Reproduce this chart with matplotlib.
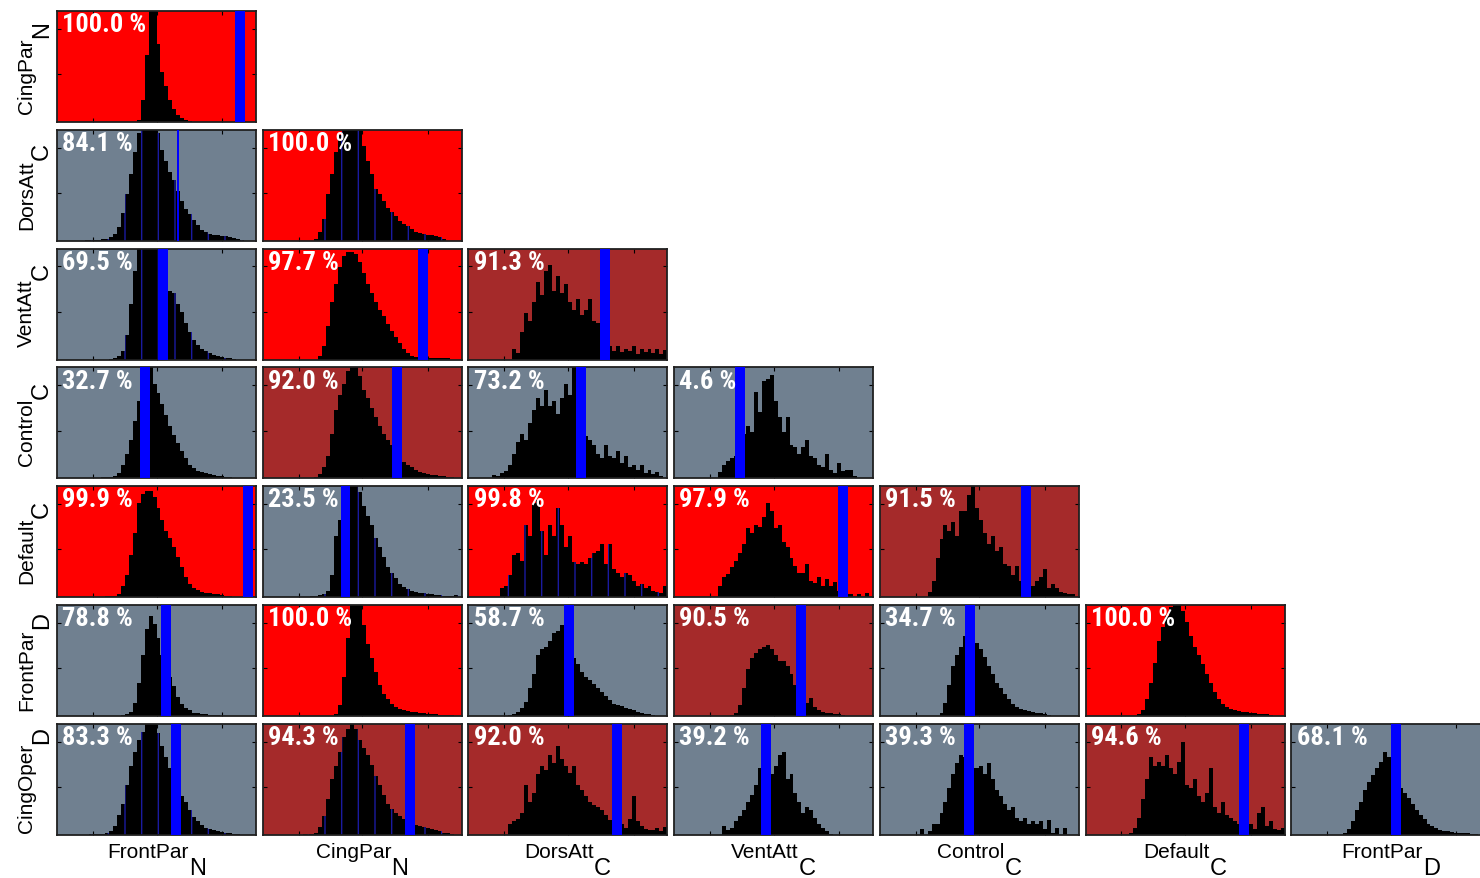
import numpy as np
import matplotlib
matplotlib.use('Agg')
import matplotlib.pyplot as plt

# fonts: regular sans for the axis names, condensed bold for the percentages
LABEL_FONT = 'Liberation Sans'
PCT_FONT = 'Roboto Condensed'
plt.rcParams['font.family'] = [LABEL_FONT, 'DejaVu Sans']
plt.rcParams['hatch.linewidth'] = 1.0

# labels
row_names = ['CingPar', 'DorsAtt', 'VentAtt', 'Control', 'Default', 'FrontPar', 'CingOper']
row_subs = ['N', 'C', 'C', 'C', 'C', 'D', 'D']
col_names = ['FrontPar', 'CingPar', 'DorsAtt', 'VentAtt', 'Control', 'Default', 'FrontPar']
col_subs = ['N', 'N', 'C', 'C', 'C', 'C', 'D']

# percentage of null values below the observed one
pct = [
    [100.0],
    [84.1, 100.0],
    [69.5, 97.7, 91.3],
    [32.7, 92.0, 73.2, 4.6],
    [99.9, 23.5, 99.8, 97.9, 91.5],
    [78.8, 100.0, 58.7, 90.5, 34.7, 100.0],
    [83.3, 94.3, 92.0, 39.2, 39.3, 94.6, 68.1],
]

# observed value (blue marker), x scale 0-100 per panel
observed = [
    [92.0],
    [60.8, 104],
    [53.5, 80.5, 68.7],
    [44.4, 67.6, 56.6, 33.3],
    [96.0, 41.6, 104, 84.8, 73.6],
    [54.6, 104, 50.4, 63.6, 45.2, 104],
    [59.7, 74.0, 74.7, 46.4, 44.7, 79.8, 52.9],
]
marker_w = [
    [5],
    [0.8, 5],
    [5, 5, 5],
    [5, 5, 5, 5],
    [5, 5, 5, 5, 5],
    [5, 5, 5, 5, 5, 5],
    [5, 5, 5, 5, 5, 5, 5],
]

# null histograms: index of first bin (bin width 2) and bin heights
first_bin = [
    [20],
    [7, 13],
    [13, 14, 11],
    [10, 13, 6, 11],
    [11, 12, 8, 11, 12],
    [16, 18, 10, 14, 15, 13],
    [8, 10, 10, 12, 10, 11, 13],
]

counts = [
    [[0.02, 0.2, 0.6, 1.2, 1.2, 0.7, 0.45, 0.32, 0.2, 0.12, 0.06, 0.035, 0.02, 0.01]],
    [[0.005, 0.005, 0.01, 0.01, 0.015, 0.02, 0.03, 0.06, 0.12, 0.25, 0.42, 0.6, 0.8, 0.97, 1.1, 1.2, 1.2, 1.15, 0.97, 0.82,
      0.72, 0.62, 0.55, 0.45, 0.36, 0.29, 0.24, 0.19, 0.14, 0.1, 0.08, 0.065, 0.055, 0.05, 0.045, 0.04, 0.035, 0.025, 0.015, 0.008],
     [0.02, 0.08, 0.2, 0.42, 0.6, 0.8, 0.95, 1.1, 1.2, 1.2, 1.15, 1.0, 0.85, 0.72, 0.6, 0.47, 0.42, 0.36, 0.3, 0.26, 0.22, 0.18,
      0.15, 0.13, 0.11, 0.08, 0.07, 0.06, 0.05, 0.05, 0.04, 0.03, 0.015]],
    [[0.005, 0.01, 0.03, 0.08, 0.22, 0.5, 0.8, 1.0, 1.1, 1.2, 1.2, 1.15, 1.0, 0.85, 0.7, 0.62, 0.6, 0.5, 0.43, 0.33, 0.25, 0.18,
      0.13, 0.1, 0.08, 0.06, 0.045, 0.035, 0.025, 0.015, 0.01, 0.005],
     [0.03, 0.12, 0.3, 0.52, 0.68, 0.83, 0.93, 0.97, 0.97, 0.95, 0.88, 0.78, 0.68, 0.6, 0.52, 0.45, 0.39, 0.32, 0.26, 0.2, 0.15,
      0.1, 0.06, 0.035, 0.02, 0.015, 0.012, 0.012, 0.012, 0.012, 0.012, 0.012, 0.012],
     [0.1, 0.06, 0.25, 0.42, 0.35, 0.52, 0.7, 0.58, 0.8, 0.85, 0.62, 0.75, 0.6, 0.68, 0.52, 0.45, 0.55, 0.4, 0.45, 0.55, 0.35,
      0.33, 0.25, 0.2, 0.12, 0.08, 0.12, 0.07, 0.1, 0.08, 0.12, 0.05, 0.1, 0.07, 0.1, 0.06, 0.1, 0.05, 0.09]],
    [[0.005, 0.01, 0.01, 0.01, 0.02, 0.05, 0.12, 0.22, 0.35, 0.52, 0.7, 0.8, 0.95, 1.0, 0.85, 0.77, 0.67, 0.57, 0.47, 0.39, 0.32,
      0.25, 0.18, 0.12, 0.09, 0.07, 0.06, 0.05, 0.04, 0.03, 0.025, 0.02, 0.015, 0.01, 0.008],
     [0.01, 0.04, 0.1, 0.2, 0.4, 0.62, 0.75, 0.85, 0.97, 1.1, 1.05, 0.92, 0.8, 0.72, 0.63, 0.55, 0.47, 0.4, 0.35, 0.3, 0.25, 0.2,
      0.15, 0.12, 0.1, 0.08, 0.06, 0.05, 0.04, 0.035, 0.03, 0.025, 0.02, 0.015, 0.01, 0.008],
     [0.03, 0.02, 0.05, 0.07, 0.12, 0.22, 0.33, 0.4, 0.35, 0.5, 0.62, 0.72, 0.65, 0.8, 0.65, 0.7, 0.58, 0.72, 0.85, 0.75, 1.05,
      0.6, 0.5, 0.38, 0.35, 0.3, 0.22, 0.18, 0.3, 0.2, 0.18, 0.25, 0.14, 0.2, 0.1, 0.12, 0.08, 0.12, 0.05, 0.08, 0.04, 0.06, 0.02],
     [0.06, 0.12, 0.16, 0.18, 0.2, 0.3, 0.4, 0.47, 0.42, 0.78, 0.6, 0.88, 0.9, 0.93, 0.7, 0.55, 0.42, 0.55, 0.3, 0.28, 0.22, 0.28,
      0.35, 0.2, 0.18, 0.12, 0.1, 0.22, 0.08, 0.05, 0.14, 0.07, 0.08, 0.08, 0.02]],
    [[0.005, 0.01, 0.01, 0.01, 0.03, 0.1, 0.2, 0.38, 0.58, 0.85, 0.93, 0.96, 0.96, 0.9, 0.8, 0.7, 0.6, 0.53, 0.45, 0.36, 0.27,
      0.18, 0.12, 0.08, 0.065, 0.05, 0.04, 0.035, 0.03, 0.025, 0.02, 0.012, 0.008, 0.006, 0.005],
     [0.008, 0.012, 0.02, 0.03, 0.06, 0.2, 0.55, 0.7, 0.85, 0.95, 1.05, 1.1, 0.95, 0.82, 0.73, 0.65, 0.53, 0.45, 0.36, 0.27, 0.22,
      0.17, 0.12, 0.09, 0.07, 0.055, 0.05, 0.04, 0.035, 0.03, 0.025, 0.02, 0.018, 0.015, 0.012, 0.01, 0.02],
     [0.08, 0.1, 0.2, 0.38, 0.4, 0.33, 0.65, 0.55, 0.85, 0.88, 0.6, 0.38, 0.65, 0.55, 0.8, 0.65, 0.45, 0.55, 0.32, 0.3, 0.32, 0.3,
      0.35, 0.4, 0.42, 0.48, 0.3, 0.48, 0.25, 0.22, 0.18, 0.22, 0.2, 0.15, 0.1, 0.12, 0.08, 0.1, 0.06, 0.05, 0.04, 0.1],
     [0.1, 0.18, 0.21, 0.27, 0.33, 0.4, 0.48, 0.62, 0.58, 0.65, 0.63, 0.72, 0.85, 0.78, 0.62, 0.65, 0.5, 0.45, 0.35, 0.28, 0.22,
      0.22, 0.3, 0.15, 0.13, 0.18, 0.1, 0.16, 0.1, 0.14, 0.06, 0.04, 0.03, 0.03, 0.0, 0.03, 0.0, 0.04],
     [0.05, 0.15, 0.35, 0.52, 0.65, 0.6, 0.68, 0.55, 0.78, 0.78, 0.92, 1.1, 0.8, 0.7, 0.58, 0.48, 0.55, 0.42, 0.45, 0.3, 0.28,
      0.2, 0.28, 0.15, 0.12, 0.1, 0.1, 0.15, 0.18, 0.25, 0.08, 0.12, 0.08, 0.05, 0.04, 0.03, 0.03]],
    [[0.005, 0.015, 0.04, 0.12, 0.3, 0.55, 0.78, 0.9, 0.83, 0.7, 0.55, 0.45, 0.35, 0.27, 0.17, 0.11, 0.07, 0.05, 0.03, 0.025,
      0.02, 0.015, 0.01, 0.008, 0.005],
     [0.02, 0.1, 0.35, 0.7, 1.05, 1.2, 1.05, 0.82, 0.65, 0.52, 0.4, 0.28, 0.2, 0.15, 0.11, 0.08, 0.065, 0.055, 0.045, 0.04,
      0.035, 0.03, 0.025, 0.02, 0.018, 0.015, 0.012, 0.01, 0.008, 0.005],
     [0.01, 0.02, 0.04, 0.07, 0.13, 0.25, 0.38, 0.55, 0.6, 0.62, 0.68, 0.75, 0.77, 0.82, 0.7, 0.6, 0.52, 0.47, 0.4, 0.35, 0.32,
      0.29, 0.25, 0.22, 0.18, 0.14, 0.11, 0.1, 0.09, 0.07, 0.06, 0.05, 0.04, 0.03, 0.02, 0.015, 0.01],
     [0.01, 0.03, 0.1, 0.25, 0.42, 0.52, 0.57, 0.6, 0.62, 0.64, 0.6, 0.55, 0.5, 0.5, 0.45, 0.38, 0.28, 0.2, 0.14, 0.12, 0.16,
      0.08, 0.05, 0.04, 0.03, 0.025, 0.02, 0.015, 0.01],
     [0.03, 0.12, 0.28, 0.45, 0.55, 0.62, 0.72, 0.75, 0.72, 0.66, 0.6, 0.53, 0.45, 0.38, 0.3, 0.25, 0.2, 0.15, 0.11, 0.08,
      0.065, 0.055, 0.045, 0.04, 0.03, 0.025, 0.015, 0.01],
     [0.02, 0.05, 0.15, 0.3, 0.48, 0.68, 0.8, 0.9, 0.98, 1.05, 1.0, 0.95, 0.85, 0.72, 0.62, 0.55, 0.47, 0.38, 0.3, 0.22, 0.15,
      0.11, 0.08, 0.065, 0.055, 0.045, 0.04, 0.035, 0.03, 0.025, 0.02, 0.018, 0.015, 0.005]],
    [[0.005, 0.008, 0.008, 0.008, 0.015, 0.03, 0.08, 0.18, 0.28, 0.45, 0.62, 0.75, 0.85, 0.93, 1.05, 1.1, 1.05, 0.92, 0.8, 0.7,
      0.6, 0.5, 0.42, 0.35, 0.3, 0.22, 0.16, 0.12, 0.09, 0.065, 0.055, 0.045, 0.035, 0.028, 0.02, 0.015, 0.01, 0.005],
     [0.005, 0.008, 0.008, 0.02, 0.07, 0.17, 0.32, 0.5, 0.62, 0.75, 0.88, 0.95, 1.02, 0.95, 0.85, 0.78, 0.72, 0.63, 0.53, 0.45,
      0.36, 0.28, 0.23, 0.2, 0.17, 0.14, 0.12, 0.1, 0.09, 0.08, 0.07, 0.06, 0.05, 0.04, 0.03, 0.02, 0.015, 0.01],
     [0.1, 0.12, 0.14, 0.2, 0.45, 0.3, 0.38, 0.55, 0.62, 0.58, 0.72, 0.65, 0.8, 0.68, 0.62, 0.56, 0.62, 0.45, 0.4, 0.35, 0.3,
      0.27, 0.25, 0.22, 0.18, 0.13, 0.12, 0.1, 0.1, 0.06, 0.14, 0.35, 0.12, 0.08, 0.05, 0.04, 0.04, 0.06, 0.03, 0.07],
     [0.08, 0.04, 0.06, 0.12, 0.17, 0.22, 0.3, 0.36, 0.45, 0.6, 0.7, 0.6, 0.55, 0.62, 0.72, 0.75, 0.5, 0.55, 0.38, 0.3, 0.2,
      0.25, 0.22, 0.15, 0.1, 0.06, 0.03, 0.01],
     [0.05, 0.0, 0.03, 0.1, 0.1, 0.2, 0.3, 0.42, 0.55, 0.65, 0.72, 0.7, 0.65, 0.6, 0.6, 0.62, 0.55, 0.65, 0.5, 0.4, 0.35, 0.28,
      0.22, 0.25, 0.15, 0.12, 0.15, 0.1, 0.12, 0.1, 0.12, 0.05, 0.13, 0.02, 0.06, 0.0, 0.06],
     [0.02, 0.06, 0.15, 0.32, 0.5, 0.7, 0.62, 0.66, 0.62, 0.72, 0.6, 0.55, 0.66, 0.84, 0.45, 0.42, 0.5, 0.35, 0.3, 0.38, 0.6,
      0.25, 0.2, 0.3, 0.18, 0.15, 0.12, 0.1, 0.08, 0.06, 0.1, 0.05, 0.2, 0.25, 0.08, 0.12, 0.05, 0.04, 0.06],
     [0.02, 0.05, 0.12, 0.22, 0.3, 0.4, 0.48, 0.54, 0.6, 0.66, 0.75, 0.7, 0.6, 0.5, 0.42, 0.38, 0.33, 0.28, 0.22, 0.18, 0.14,
      0.1, 0.08, 0.06, 0.045, 0.035, 0.03, 0.025, 0.02, 0.02, 0.015, 0.015, 0.01, 0.01]],
]

# panels whose histogram shows thin blue stripes (bar edges) in the original
striped = [(1, 0), (1, 1), (2, 0), (4, 1), (4, 2), (6, 0), (6, 1)]

BIN_W = 2.0
W, H = 1480, 879

fig = plt.figure(figsize=(W / 100, H / 100), dpi=100)
renderer = fig.canvas.get_renderer()


def bg_color(p):
    if p >= 97.5:
        return 'red'
    if p >= 90:
        return 'brown'
    return 'slategray'


def text_width(s, size):
    t = fig.text(0, 0, s, fontsize=size)
    w = t.get_window_extent(renderer).width
    t.remove()
    return w


for r in range(7):
    for c in range(r + 1):
        left = 57 + 205.7 * c
        top = 12 + 118.8 * r
        ax = fig.add_axes([left / W, 1 - (top + 111) / H, 199 / W, 111 / H])
        ax.set_facecolor(bg_color(pct[r][c]))

        h = counts[r][c]
        edges = (first_bin[r][c] + np.arange(len(h) + 1)) * BIN_W
        if (r, c) in striped:
            ax.stairs(h, edges, fill=True, facecolor='black', edgecolor='#1a1aa0',
                      hatch='|', linewidth=0, zorder=2)
        else:
            ax.stairs(h, edges, fill=True, color='black', linewidth=0, zorder=2)

        o = observed[r][c]
        w = marker_w[r][c]
        ax.axvspan(o - w / 2, o + w / 2, color='blue', linewidth=0, zorder=3)

        ax.set_xlim(0, 100)
        ax.set_ylim(0, 1)
        ax.set_xticks([18, 50, 83])
        ax.set_yticks([0.43, 0.84])
        ax.tick_params(direction='in', length=3, width=0.8, top=True, right=True,
                       labelbottom=False, labelleft=False)
        for s in ax.spines.values():
            s.set_linewidth(1.3)
            s.set_color('#202020')

        ax.text(0.027, 0.99, f'{pct[r][c]:.1f} %', transform=ax.transAxes,
                ha='left', va='top', color='white', fontweight='bold', fontsize=19,
                family=[PCT_FONT, 'DejaVu Sans'], zorder=5)

        # row names on the left, read upwards, with a large low subscript
        if c == 0:
            wm = text_width(row_names[r], 15)
            ws = text_width(row_subs[r], 17)
            y0 = top + 55.5 + (wm + ws) / 2
            fig.text(32 / W, 1 - y0 / H, row_names[r], rotation=90, rotation_mode='anchor',
                     ha='left', va='baseline', fontsize=15)
            fig.text(48 / W, 1 - (y0 - wm) / H, row_subs[r], rotation=90, rotation_mode='anchor',
                     ha='left', va='baseline', fontsize=17)
        # column names under the bottom row
        if r == 6:
            wm = text_width(col_names[c], 15)
            ws = text_width(col_subs[c], 17)
            x0 = left + 99.5 - (wm + ws) / 2
            fig.text(x0 / W, 1 - 858 / H, col_names[c], ha='left', va='baseline', fontsize=15)
            fig.text((x0 + wm) / W, 1 - 875 / H, col_subs[c], ha='left', va='baseline', fontsize=17)

fig.savefig('out.png', dpi=100, facecolor='white')
